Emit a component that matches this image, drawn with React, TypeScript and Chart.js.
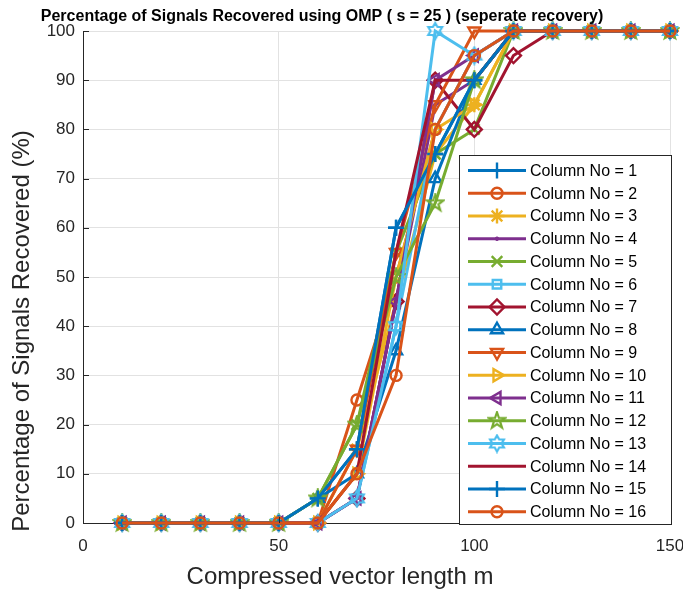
import React, { useEffect, useRef } from 'react';
import { Chart, registerables } from 'chart.js';
import { drawPoint } from 'chart.js/helpers';

Chart.register(...registerables);

const mValues = [10, 20, 30, 40, 50, 60, 70, 80, 90, 100, 110, 120, 130, 140, 150];
const xTicks = [0, 50, 100, 150];
const yTicks = [0, 10, 20, 30, 40, 50, 60, 70, 80, 90, 100];

const col1 = [0, 0, 0, 0, 0, 5, 15, 60, 75, 90, 100, 100, 100, 100, 100];
const col2 = [0, 0, 0, 0, 0, 0, 25, 50, 80, 95, 100, 100, 100, 100, 100];
const col3 = [0, 0, 0, 0, 0, 0, 15, 45, 75, 85, 100, 100, 100, 100, 100];
const col4 = [0, 0, 0, 0, 0, 0, 5, 45, 85, 90, 100, 100, 100, 100, 100];
const col5 = [0, 0, 0, 0, 0, 5, 20, 55, 75, 80, 100, 100, 100, 100, 100];
const col6 = [0, 0, 0, 0, 0, 0, 5, 40, 80, 95, 100, 100, 100, 100, 100];
const col7 = [0, 0, 0, 0, 0, 0, 5, 45, 90, 80, 95, 100, 100, 100, 100];
const col8 = [0, 0, 0, 0, 0, 5, 10, 35, 70, 90, 100, 100, 100, 100, 100];
const col9 = [0, 0, 0, 0, 0, 0, 15, 55, 85, 100, 100, 100, 100, 100, 100];
const col10 = [0, 0, 0, 0, 0, 0, 10, 50, 80, 85, 100, 100, 100, 100, 100];
const col11 = [0, 0, 0, 0, 0, 0, 5, 45, 90, 95, 100, 100, 100, 100, 100];
const col12 = [0, 0, 0, 0, 0, 5, 20, 50, 65, 90, 100, 100, 100, 100, 100];
const col13 = [0, 0, 0, 0, 0, 0, 5, 40, 100, 95, 100, 100, 100, 100, 100];
const col14 = [0, 0, 0, 0, 0, 0, 10, 55, 90, 90, 100, 100, 100, 100, 100];
const col15 = [0, 0, 0, 0, 0, 5, 15, 60, 75, 90, 100, 100, 100, 100, 100];
const col16 = [0, 0, 0, 0, 0, 0, 10, 30, 80, 95, 100, 100, 100, 100, 100];

const seriesValues = [col1, col2, col3, col4, col5, col6, col7, col8, col9, col10, col11, col12, col13, col14, col15, col16];
const seriesLabels = seriesValues.map((_, i) => `Column No = ${i + 1}`);
const seriesColors = ['#0072BD', '#D95319', '#EDB120', '#7E2F8E', '#77AC30', '#4DBEEE', '#A2142F',
  '#0072BD', '#D95319', '#EDB120', '#7E2F8E', '#77AC30', '#4DBEEE', '#A2142F', '#0072BD', '#D95319'];
const seriesMarkers = ['cross', 'circle', 'star', 'dot', 'crossRot', 'rect', 'rectRot', 'triangle',
  'triDown', 'triRight', 'triLeft', 'pentagram', 'hexagram', 'none', 'cross', 'circle'];

const TITLE = 'Percentage of Signals Recovered using OMP ( s = 25 ) (seperate recovery)';
const X_TITLE = 'Compressed vector length m';
const Y_TITLE = 'Percentage of Signals Recovered (%)';
const FONT = '"Liberation Sans", Arial, Helvetica, sans-serif';

function makeStarCanvas(color: string, kind: 'penta' | 'hexa') {
  const c = document.createElement('canvas');
  c.width = 20; c.height = 20;
  const g = c.getContext('2d')!;
  g.strokeStyle = color;
  g.lineWidth = 2.2;
  const cx = 10, cy = 10;
  const n = kind === 'penta' ? 5 : 6;
  const R = kind === 'penta' ? 8.5 : 8;
  const r = kind === 'penta' ? 3.4 : 4.6;
  g.beginPath();
  for (let k = 0; k < n * 2; k++) {
    const rad = k % 2 === 0 ? R : r;
    const a = -Math.PI / 2 + (k * Math.PI) / n;
    const px = cx + rad * Math.cos(a), py = cy + rad * Math.sin(a);
    if (k === 0) g.moveTo(px, py); else g.lineTo(px, py);
  }
  g.closePath();
  g.stroke();
  return c;
}

function markerProps(marker: string, color: string) {
  const base = { pointBorderColor: color, pointBackgroundColor: 'rgba(0,0,0,0)', pointBorderWidth: 2.4, pointRadius: 6.5, pointRotation: 0, pointStyle: 'circle' as any };
  switch (marker) {
    case 'cross': return { ...base, pointStyle: 'cross', pointRadius: 8 };
    case 'circle': return { ...base, pointStyle: 'circle', pointRadius: 5.5 };
    case 'star': return { ...base, pointStyle: 'star', pointRadius: 7.5 };
    case 'dot': return { ...base, pointStyle: 'circle', pointRadius: 1.8, pointBackgroundColor: color, pointBorderWidth: 1 };
    case 'crossRot': return { ...base, pointStyle: 'crossRot', pointRadius: 7.5 };
    case 'rect': return { ...base, pointStyle: 'rect', pointRadius: 6 };
    case 'rectRot': return { ...base, pointStyle: 'rectRot', pointRadius: 7.5 };
    case 'triangle': return { ...base, pointStyle: 'triangle', pointRadius: 7 };
    case 'triDown': return { ...base, pointStyle: 'triangle', pointRadius: 7, pointRotation: 180 };
    case 'triRight': return { ...base, pointStyle: 'triangle', pointRadius: 7, pointRotation: 90 };
    case 'triLeft': return { ...base, pointStyle: 'triangle', pointRadius: 7, pointRotation: -90 };
    case 'pentagram': return { ...base, pointStyle: makeStarCanvas(color, 'penta') };
    case 'hexagram': return { ...base, pointStyle: makeStarCanvas(color, 'hexa') };
    default: return { ...base, pointRadius: 0 };
  }
}

const textPlugin = {
  id: 'matlabText',
  afterDraw(chart: any) {
    const ctx = chart.ctx as CanvasRenderingContext2D;
    const area = chart.chartArea;
    ctx.save();
    ctx.strokeStyle = '#262626';
    ctx.lineWidth = 1;
    const xs = chart.scales.x, ys = chart.scales.y;
    ctx.beginPath();
    yTicks.forEach((v) => {
      const py = Math.round(ys.getPixelForValue(v)) + 0.5;
      ctx.moveTo(area.left, py); ctx.lineTo(area.left + 6, py);
    });
    xTicks.forEach((v) => {
      const px = Math.round(xs.getPixelForValue(v)) + 0.5;
      ctx.moveTo(px, area.bottom); ctx.lineTo(px, area.bottom - 6);
    });
    ctx.stroke();

    ctx.fillStyle = '#000';
    ctx.font = `bold 16px ${FONT}`;
    ctx.textAlign = 'center';
    ctx.textBaseline = 'middle';
    ctx.fillText(TITLE, 322, 17);

    ctx.fillStyle = '#262626';
    ctx.font = `24px ${FONT}`;
    ctx.fillText(X_TITLE, 340, 577);

    ctx.translate(22, 331);
    ctx.rotate(-Math.PI / 2);
    ctx.fillText(Y_TITLE, 0, 0);
    ctx.restore();

    // legend
    ctx.save();
    const bx = 459, by = 155, bw = 212, bh = 369;
    ctx.fillStyle = '#fff';
    ctx.fillRect(bx, by, bw, bh);
    ctx.strokeStyle = '#262626';
    ctx.lineWidth = 1;
    ctx.strokeRect(bx + 0.5, by + 0.5, bw, bh);
    chart.data.datasets.forEach((ds: any, i: number) => {
      const y = 170.5 + i * 22.75;
      ctx.strokeStyle = ds.borderColor;
      ctx.lineWidth = 3;
      ctx.beginPath();
      ctx.moveTo(468, y);
      ctx.lineTo(526, y);
      ctx.stroke();
      if (ds.pointRadius > 0 || typeof ds.pointStyle !== 'string') {
        ctx.fillStyle = ds.pointBackgroundColor;
        ctx.strokeStyle = ds.pointBorderColor;
        ctx.lineWidth = ds.pointBorderWidth;
        drawPoint(ctx, { pointStyle: ds.pointStyle, rotation: ds.pointRotation || 0, radius: ds.pointRadius, borderWidth: ds.pointBorderWidth } as any, 497, y);
      }
      ctx.fillStyle = '#000';
      ctx.font = `16px ${FONT}`;
      ctx.textAlign = 'left';
      ctx.textBaseline = 'middle';
      ctx.fillText(ds.label, 530, y + 1);
    });
    ctx.restore();
  },
};

export default function App() {
  const ref = useRef<HTMLCanvasElement | null>(null);
  useEffect(() => {
    if (!ref.current) return;
    const datasets = seriesValues.map((vals, i) => ({
      label: seriesLabels[i],
      data: mValues.map((m, j) => ({ x: m, y: vals[j] })),
      borderColor: seriesColors[i],
      borderWidth: 3,
      fill: false,
      tension: 0,
      clip: false as any,
      order: 16 - i,
      ...markerProps(seriesMarkers[i], seriesColors[i]),
    }));
    const chart = new Chart(ref.current, {
      type: 'line',
      data: { datasets: datasets as any },
      options: {
        animation: false,
        responsive: false,
        events: [],
        layout: { padding: { top: 31, right: 13, bottom: 0, left: 0 } },
        plugins: { legend: { display: false }, tooltip: { enabled: false }, title: { display: false } },
        scales: {
          x: {
            type: 'linear',
            min: 0,
            max: 150,
            afterFit: (s: any) => { s.height = 69; s.paddingLeft = 0; s.paddingRight = 0; },
            afterBuildTicks: (s: any) => { s.ticks = xTicks.map((v) => ({ value: v })); },
            ticks: { color: '#262626', font: { size: 17, family: FONT }, padding: 13, maxRotation: 0 },
            grid: { color: '#e2e2e2', lineWidth: 1, drawTicks: false },
            border: { color: '#262626', width: 1 },
          },
          y: {
            type: 'linear',
            min: 0,
            max: 100,
            afterFit: (s: any) => { s.width = 83; s.paddingTop = 0; s.paddingBottom = 0; },
            afterBuildTicks: (s: any) => { s.ticks = yTicks.map((v) => ({ value: v })); },
            ticks: { color: '#262626', font: { size: 17, family: FONT }, padding: 8 },
            grid: { color: '#e2e2e2', lineWidth: 1, drawTicks: false },
            border: { color: '#262626', width: 1 },
          },
        },
      },
      plugins: [textPlugin],
    });
    return () => chart.destroy();
  }, []);
  return (
    <div style={{ position: 'absolute', left: 0, top: 0, width: 683, height: 592, background: '#fff' }}>
      <canvas ref={ref} width={683} height={592} style={{ width: 683, height: 592, display: 'block' }} />
    </div>
  );
}
